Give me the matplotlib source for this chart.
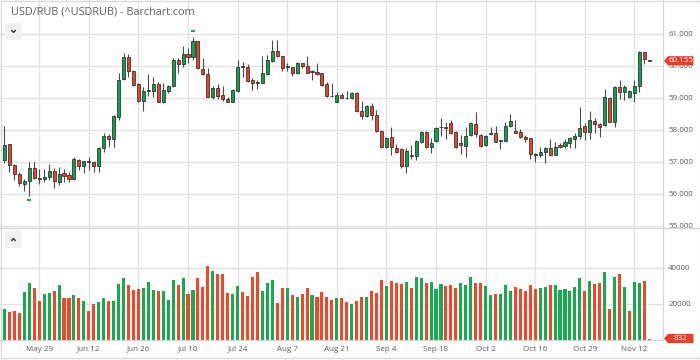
import matplotlib
matplotlib.use('Agg')
import matplotlib.pyplot as plt
from matplotlib.patches import Polygon, FancyBboxPatch, Rectangle
from matplotlib.lines import Line2D
import numpy as np

plt.rcParams['font.family'] = ['Open Sans', 'DejaVu Sans']

title = 'USD/RUB (^USDRUB) - Barchart.com'

opens = [57.05, 57.54, 56.90, 56.62, 56.29, 56.40, 56.81, 56.50, 56.47, 56.51,
         56.71, 56.38, 56.64, 56.58, 56.46, 57.05, 56.87, 57.01, 57.00, 56.87,
         57.42, 57.80, 57.70, 58.39, 59.57, 60.26, 59.84, 59.43, 58.90, 59.20,
         59.21, 59.43, 58.88, 59.21, 59.37, 60.18, 60.04, 60.37, 60.26, 60.77,
         59.89, 59.74, 59.03, 59.29, 59.08, 58.96, 58.88, 59.21, 59.98, 59.95,
         59.55, 59.47, 59.47, 59.73, 60.16, 60.46, 60.30, 59.96, 59.95, 59.78,
         60.07, 59.99, 59.80, 59.81, 59.76, 59.42, 59.05, 58.88, 59.07, 58.99,
         58.98, 59.16, 58.58, 58.43, 58.74, 58.46, 57.97, 57.47, 57.76, 57.44,
         57.39, 56.87, 57.19, 57.18, 57.62, 57.94, 57.47, 57.65, 58.07, 58.08,
         58.22, 57.94, 57.59, 57.49, 57.83, 58.18, 57.83, 57.52, 57.88, 57.91,
         57.65, 57.65, 58.12, 57.97, 57.92, 57.78, 57.73, 57.23, 57.21, 57.31,
         57.42, 57.21, 57.52, 57.49, 57.59, 57.71, 57.80, 58.12, 57.94, 58.27,
         58.17, 58.15, 59.00, 58.25, 59.34, 59.19, 59.01, 59.16, 59.37, 60.42,
         60.18]
closes = [57.52, 56.90, 56.62, 56.32, 56.40, 56.81, 56.48, 56.46, 56.53, 56.71,
          56.40, 56.62, 56.55, 56.46, 57.08, 56.87, 57.02, 56.99, 56.87, 57.44,
          57.81, 57.70, 58.44, 59.55, 60.26, 59.84, 59.40, 58.90, 59.21, 59.22,
          59.43, 58.88, 59.24, 59.37, 60.18, 60.04, 60.37, 60.26, 60.77, 59.92,
          59.74, 59.03, 59.29, 59.06, 58.95, 58.88, 59.24, 59.97, 59.96, 59.53,
          59.47, 59.46, 59.76, 60.18, 60.47, 60.30, 59.94, 59.97, 59.78, 60.07,
          59.99, 59.78, 59.81, 59.73, 59.40, 59.05, 59.04, 59.07, 59.00, 58.98,
          59.16, 58.58, 58.43, 58.74, 58.46, 57.97, 57.47, 57.75, 57.45, 57.31,
          56.87, 57.33, 57.17, 57.65, 57.94, 57.47, 57.59, 58.06, 58.08, 58.06,
          57.89, 57.47, 57.52, 57.80, 58.20, 57.86, 57.49, 57.80, 57.89, 57.62,
          57.66, 58.12, 58.28, 57.91, 57.78, 57.70, 57.24, 57.22, 57.29, 57.42,
          57.21, 57.45, 57.47, 57.63, 57.75, 57.81, 58.04, 57.94, 58.30, 58.17,
          58.09, 59.01, 58.25, 59.34, 59.19, 59.34, 59.22, 59.37, 60.44, 60.21,
          60.155]
highs = [58.10, 57.55, 56.92, 56.69, 56.45, 57.00, 57.00, 56.77, 56.76, 56.93,
         56.81, 56.82, 56.76, 56.69, 57.14, 57.07, 57.03, 57.16, 57.02, 57.45,
         57.89, 57.86, 58.47, 59.76, 60.39, 60.37, 59.87, 59.45, 59.32, 59.74,
         59.66, 59.50, 59.47, 59.40, 60.23, 60.23, 60.62, 60.54, 60.90, 60.78,
         60.23, 59.92, 59.37, 59.43, 59.37, 59.03, 59.26, 60.18, 60.13, 60.04,
         59.60, 59.55, 60.30, 60.33, 60.80, 60.80, 60.31, 60.09, 59.97, 60.12,
         60.08, 60.30, 59.87, 60.07, 59.78, 59.48, 59.45, 59.19, 59.14, 59.21,
         59.19, 59.19, 58.90, 58.77, 58.82, 58.62, 57.99, 57.78, 58.08, 57.54,
         57.42, 57.42, 57.52, 57.68, 57.96, 57.96, 57.73, 58.09, 58.36, 58.25,
         58.30, 57.95, 57.83, 58.09, 58.25, 58.56, 57.86, 57.83, 58.09, 58.12,
         57.68, 58.25, 58.49, 58.30, 58.01, 57.83, 57.74, 57.26, 57.47, 57.47,
         57.70, 57.63, 57.59, 57.70, 57.78, 57.89, 58.70, 58.20, 58.59, 58.36,
         58.20, 59.26, 59.01, 59.37, 59.55, 59.40, 59.24, 59.55, 60.46, 60.43,
         60.19]
lows = [56.95, 56.69, 56.43, 56.24, 56.09, 55.92, 56.45, 56.29, 56.38, 56.43,
        56.17, 56.27, 56.38, 56.38, 56.43, 56.74, 56.66, 56.74, 56.69, 56.69,
        57.31, 57.47, 57.47, 58.30, 59.55, 59.66, 59.37, 58.88, 58.59, 59.05,
        59.03, 58.85, 58.83, 59.14, 59.34, 59.78, 59.97, 60.09, 60.18, 59.89,
        59.71, 59.01, 58.95, 58.95, 58.91, 58.85, 58.85, 59.19, 59.66, 59.50,
        59.24, 59.26, 59.45, 59.71, 60.13, 60.28, 59.84, 59.84, 59.68, 59.74,
        59.92, 59.76, 59.55, 59.71, 59.37, 59.01, 59.03, 58.85, 58.98, 58.95,
        58.95, 58.56, 58.33, 58.39, 58.30, 57.94, 57.42, 57.44, 57.21, 57.28,
        56.79, 56.66, 57.08, 57.05, 57.59, 57.44, 57.28, 57.61, 57.80, 57.70,
        57.86, 57.44, 57.24, 57.14, 57.80, 57.78, 57.47, 57.49, 57.83, 57.61,
        57.39, 57.62, 58.08, 57.89, 57.73, 57.63, 57.07, 57.00, 57.16, 56.95,
        57.20, 57.20, 57.42, 57.42, 57.42, 57.42, 57.70, 57.68, 57.70, 57.89,
        57.78, 58.12, 58.23, 58.09, 58.95, 58.93, 58.98, 58.88, 59.19, 60.05,
        60.15]
volumes = [17200, 15700, 16100, 14800, 26500, 31500, 28700, 21500, 25600, 25900,
           27200, 30600, 23500, 23500, 25000, 23100, 21500, 16100, 19800, 21100,
           23100, 21900, 21500, 31100, 34400, 30700, 28000, 28200, 28900, 32400,
           27800, 27000, 27400, 22000, 33300, 30400, 34400, 25400, 27800, 34400,
           29600, 40900, 38100, 36700, 36700, 25900, 25400, 30000, 26900, 24400,
           34800, 37600, 27400, 31500, 33100, 20400, 28900, 28900, 24800, 24100,
           25600, 28700, 24800, 23900, 26700, 23900, 22400, 23300, 23300, 21100,
           20200, 21500, 23900, 23900, 27000, 25900, 33500, 29800, 32800, 31700,
           31100, 32200, 28900, 34800, 34400, 31500, 32400, 28100, 30900, 29800,
           30700, 28700, 31500, 30600, 34800, 31900, 31900, 30000, 25000, 25700,
           25700, 30700, 27400, 29400, 28100, 27200, 30700, 28300, 28900, 29400,
           30600, 30600, 28000, 28500, 27200, 29300, 34600, 27200, 32600, 31300,
           31500, 37600, 17000, 35200, 36500, 29600, 16300, 32400, 31900, 32800,
           832]
vol_dir = ("GRRRGGRRGGRGRRGRGRRGGRGGGRRRGGGRGGGRGRGRRRGRRRGG"
           "RRRRGGGRRGRGRRGRRRRGRRGRRGRRRGRRRGRGGRGGGRRRGGG"
           "RRGGRGGGRRRRRGGRGGGGGGRGRRGRGRGRGGRR")

tick_labels = ['May 29', 'Jun 12', 'Jun 26', 'Jul 10', 'Jul 24', 'Aug 7', 'Aug 21',
               'Sep 4', 'Sep 18', 'Oct 2', 'Oct 16', 'Oct 29', 'Nov 12']
tick_bars = [7, 17, 27, 37, 47, 57, 67, 77, 87, 97, 107, 117, 127]
price_ticks = [55, 56, 57, 58, 59, 60, 61]
vol_ticks = [20000, 40000]

GREEN = '#0ba34a'
RED = '#ef4129'
VGREEN = '#16ab4f'
VRED = '#f2462b'
GRID = '#e2e2e2'
TXT = '#5a5a5a'

W, H = 700, 360
fig = plt.figure(figsize=(W / 100, H / 100), dpi=100)

def fx(x):
    return x / W

def fy(y):
    return 1 - y / H

right_px = 662.7
ax = fig.add_axes([0, fy(228), fx(right_px), 228 / H])
vax = fig.add_axes([0, fy(340), fx(right_px), (340 - 228) / H], sharex=ax)

n = len(closes)
x = np.arange(n)
o = np.array(opens); c = np.array(closes); hi = np.array(highs); lo = np.array(lows)

# grid
for a in (ax, vax):
    a.set_facecolor('white')
    for t in tick_bars:
        a.axvline(t, color=GRID, lw=1.0, zorder=0)
for p in price_ticks:
    ax.axhline(p, color=GRID, lw=1.0, zorder=0)
for v in vol_ticks:
    vax.axhline(v, color=GRID, lw=1.0, zorder=0)

# candles
ax.vlines(x, lo, hi, color='#4a4a4a', lw=0.8, zorder=2)
body_bottom = np.minimum(o, c)
body_h = np.maximum(np.abs(c - o), 0.025)
cols = [GREEN if cc > oo else RED for oo, cc in zip(o, c)]
ax.bar(x, body_h, bottom=body_bottom, width=0.62, color=cols,
       edgecolor='#2a2a2a', linewidth=0.55, zorder=3)

# high / low markers
imax = int(np.argmax(hi)); imin = int(np.argmin(lo))
ax.plot([imax], [hi[imax] + 0.17], marker='_', color=VGREEN, ms=3.5, mew=1.5, zorder=4)
ax.plot([imin], [lo[imin] - 0.12], marker='_', color=VGREEN, ms=3.5, mew=1.5, zorder=4)

# volume
vcols = [VGREEN if d == 'G' else VRED for d in vol_dir]
vax.bar(x, volumes, width=0.62, color=vcols, linewidth=0, zorder=2)

ax.set_xlim(-0.907, (right_px - 4.5) / 4.96)
ax.set_ylim(61 - (228 - 33.7) / 32, 61 + 33.7 / 32)
vax.set_ylim(0, (340 - 228) / 36 * 20000)

# axes styling
for a in (ax, vax):
    for s in ('left', 'top', 'bottom'):
        a.spines[s].set_visible(False)
    a.spines['right'].set_color('#d6d6d6')
    a.yaxis.tick_right()
    a.tick_params(axis='y', length=0, pad=4, labelsize=5.8, labelcolor=TXT)
vax.spines['bottom'].set_visible(True)
vax.spines['bottom'].set_color('#d6d6d6')

ax.set_yticks(price_ticks)
ax.set_yticklabels(['%.3f' % p for p in price_ticks])
ax.tick_params(axis='x', length=0, labelbottom=False)
vax.set_yticks(vol_ticks)
vax.set_yticklabels(['%d' % v for v in vol_ticks])
vax.set_xticks(tick_bars)
vax.set_xticklabels(tick_labels)
vax.tick_params(axis='x', length=0, pad=4, labelsize=5.8, labelcolor=TXT)

# title
fig.text(fx(11), fy(12), title, fontsize=7.8, color='#5f5f5f', va='center', ha='left')

# separator and frame
fig.add_artist(Line2D([0, 1], [fy(228), fy(228)], color='#d6d6d6', lw=1.0))
fig.add_artist(Rectangle((fx(0.5), fy(357.5)), fx(699), 357 / H, fill=False,
                         ec='#dadada', lw=1.0, transform=fig.transFigure))

# buttons
def button(y0, up):
    fig.add_artist(FancyBboxPatch((fx(5), fy(y0 + 17)), fx(17), 17 / H,
                                  boxstyle='round,pad=0,rounding_size=0.004',
                                  fc='#f1f1f1', ec='none', transform=fig.transFigure))
    cy = y0 + 8.5
    d = -1 if up else 1
    fig.add_artist(Line2D([fx(11.7), fx(13.5), fx(15.3)],
                          [fy(cy - d * 1), fy(cy + d * 1), fy(cy - d * 1)],
                          color='#333333', lw=1.0))

button(23, False)
button(231, True)

# value tags
def tag(axis, value, label):
    disp = axis.transData.transform((0, value))
    yc = H - disp[1]
    pts = [(664, yc), (668, yc - 4.6), (693.5, yc - 4.6), (693.5, yc + 4.6), (668, yc + 4.6)]
    fig.add_artist(Polygon([(fx(a), fy(b)) for a, b in pts], closed=True,
                           fc='#ea3f27', ec='none', transform=fig.transFigure))
    fig.text(fx(681), fy(yc), label, fontsize=5.8, color='white', ha='center', va='center')

tag(ax, closes[-1], '%.3f' % closes[-1])
tag(vax, volumes[-1], '%d' % volumes[-1])

fig.savefig('out.png', dpi=100)
